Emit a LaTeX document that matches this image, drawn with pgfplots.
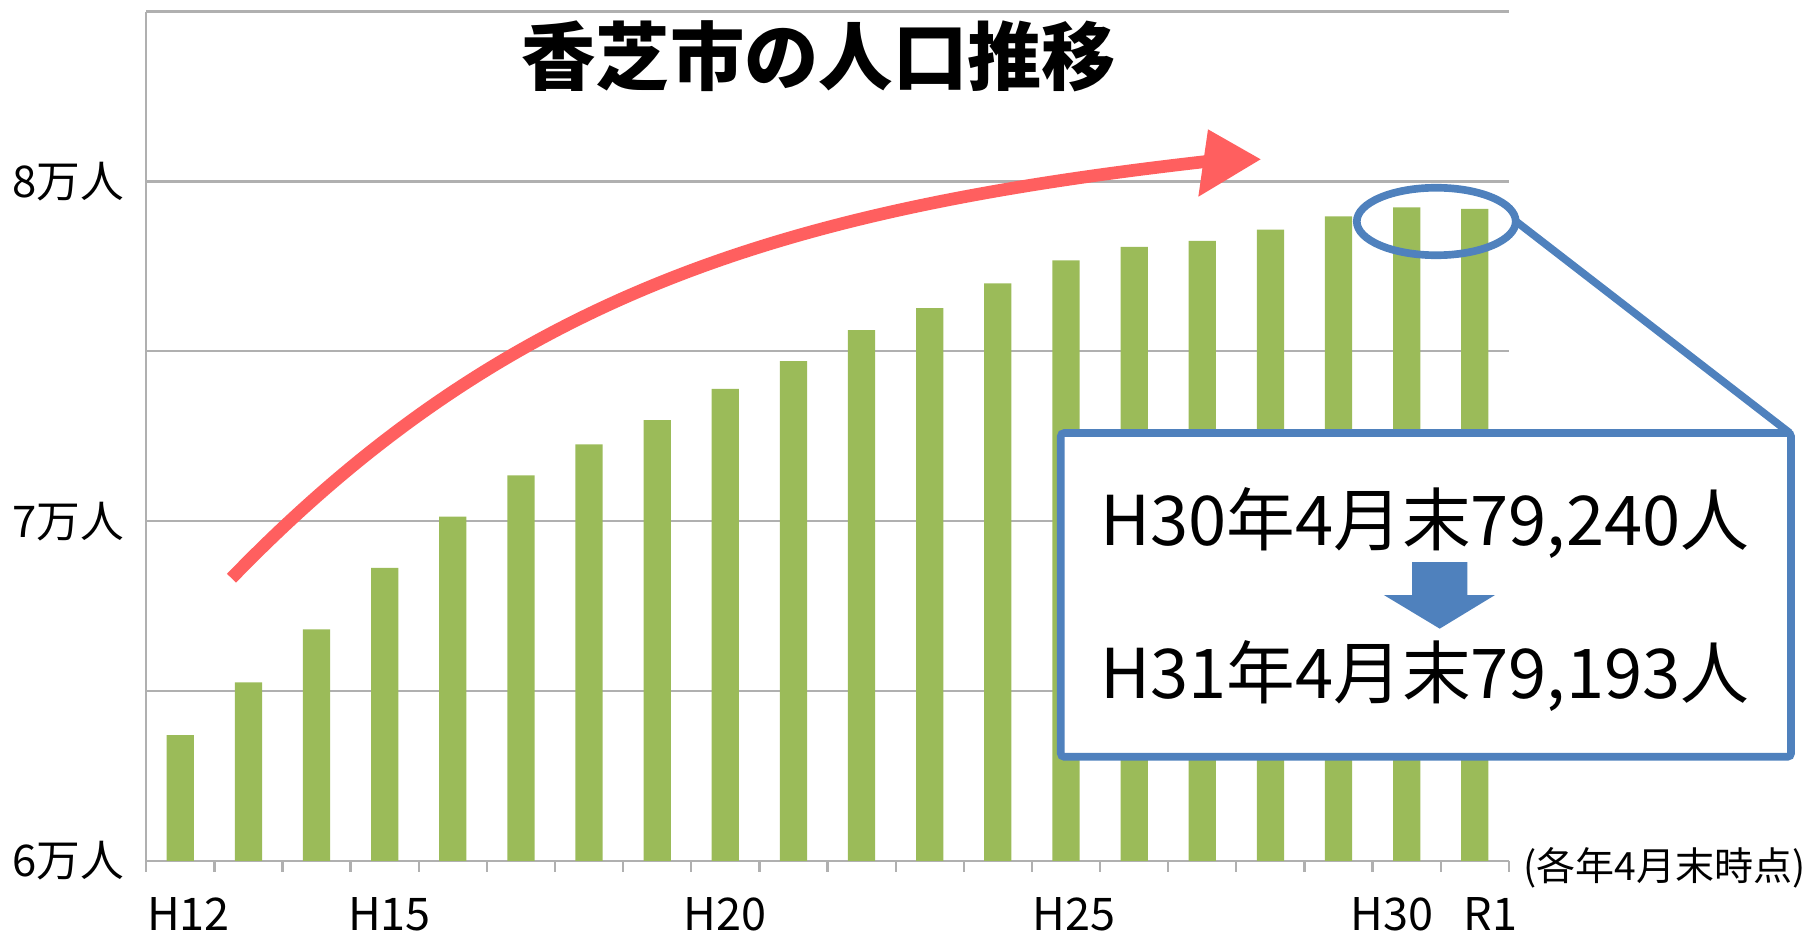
\documentclass[border=0pt]{standalone}
\usepackage{fontspec}
\setmainfont{Noto Sans CJK JP}
\usepackage{pgfplots}
\usepackage{pgfplotstable}
\pgfplotsset{compat=1.18}
\definecolor{barGreen}{HTML}{9BBB59}
\definecolor{arrowRed}{HTML}{FF5F5F}
\definecolor{boxBlue}{HTML}{4F81BD}
\definecolor{gridGray}{HTML}{B0B0B0}

\pgfplotstableread{
x y
0 63705
1 65256
2 66813
3 68630
4 70137
5 71348
6 72260
7 72978
8 73898
9 74712
10 75627
11 76271
12 77000
13 77680
14 78075
15 78250
16 78585
17 78975
18 79240
19 79193
}\poptable

\begin{document}
\begin{tikzpicture}
\useasboundingbox (0,0) rectangle (541.8pt,-281.6pt);
\begin{axis}[
  at={(43.88pt,-258.29pt)}, anchor=south west,
  scale only axis, width=408.77pt, height=254.83pt,
  xmin=-0.5, xmax=19.5, ymin=60000, ymax=85000,
  axis lines*=left,
  axis line style={gridGray, line width=0.7pt},
  ybar, bar width=0.4,
  xtick={0.12,3.07,7.99,13.12,17.79,19.23},
  xticklabels={H12,H15,H20,H25,H30,R1},
  minor xtick={-0.5,0.5,...,19.5},
  ytick={60000,65000,...,85000},
  yticklabels={6万人,,7万人,,8万人,},
  scaled y ticks=false,
  ymajorgrids, major grid style={gridGray, line width=0.7pt},
  major tick length=0pt, minor tick length=3.3pt, tick align=outside,
  every minor tick/.append style={gridGray, line width=0.7pt},
  xticklabel style={font=\fontsize{13.5}{15}\selectfont, yshift=-7.5pt},
  yticklabel style={font=\fontsize{13.1}{15}\selectfont, xshift=-3.2pt},
]
\addplot[fill=barGreen, draw=none] table[x=x,y=y]{\poptable};
\end{axis}
\begin{scope}[x=0.345536pt, y=-0.345536pt]
\draw[arrowRed, line width=3.8pt] (201,502) .. controls (445,250) and (690,180) .. (1058,139);
\fill[arrowRed] (1048.8,112.3) -- (1094.5,138.3) -- (1040.4,170.8) -- cycle;
\draw[boxBlue, line width=2.3pt] (1247,192.3) ellipse [x radius=69, y radius=29.3];
\draw[boxBlue, line width=2.3pt] (1316,192) -- (1554,376);
\draw[boxBlue, line width=2.3pt, fill=white, rounded corners=1pt] (921,376) rectangle (1555,657);
\node[anchor=base, font=\fontsize{20.6}{24}\selectfont, inner sep=0pt] at (1237,473.2) {H30年4月末79,240人};
\node[anchor=base, font=\fontsize{20.6}{24}\selectfont, inner sep=0pt] at (1237,606.3) {H31年4月末79,193人};
\fill[boxBlue] (1226,488) -- (1274,488) -- (1274,516.6) -- (1298,516.6) -- (1250,545.8) -- (1201.5,516.6) -- (1226,516.6) -- cycle;
\node[font=\fontsize{22.3}{26}\selectfont\bfseries] at (711,49) {香芝市の人口推移};
\node[anchor=west, inner sep=0pt, font=\fontsize{11.7}{13}\selectfont] at (1322,753.6) {(各年4月末時点)};
\end{scope}
\end{tikzpicture}
\end{document}
